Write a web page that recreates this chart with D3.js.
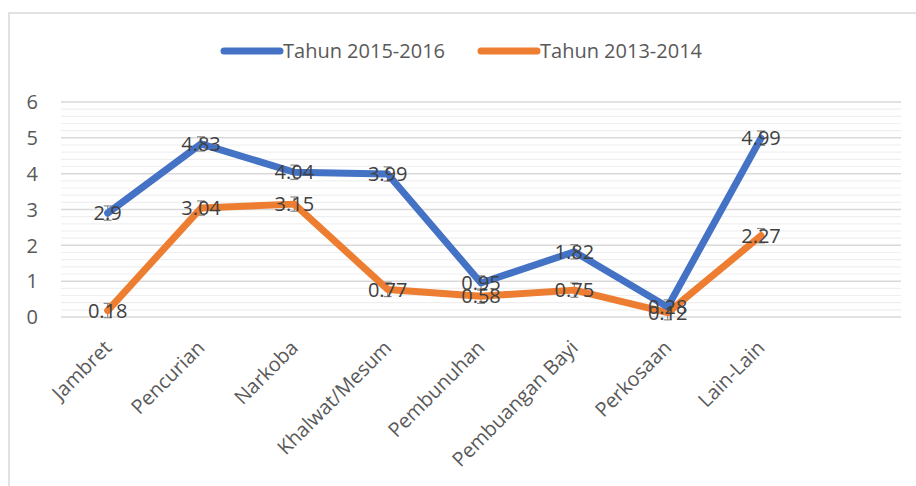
<!DOCTYPE html>
<html>
<head>
<meta charset="utf-8">
<script src="https://cdn.jsdelivr.net/npm/d3@7"></script>
<style>
  body { margin: 0; background: #fff; }
  text { font-family: "Open Sans", sans-serif; }
</style>
</head>
<body>
<svg width="916" height="486"></svg>
<script>
// categories along the x axis (Excel leaves one empty slot on the right)
var categories = ['Jambret', 'Pencurian', 'Narkoba', 'Khalwat/Mesum', 'Pembunuhan', 'Pembuangan Bayi', 'Perkosaan', 'Lain-Lain'];
var slotCount = 9;

var tahun2015 = [2.9, 4.83, 4.04, 3.99, 0.95, 1.82, 0.28, 4.99];
var tahun2013 = [0.18, 3.04, 3.15, 0.77, 0.58, 0.75, 0.12, 2.27];

var seriesNames = ['Tahun 2015-2016', 'Tahun 2013-2014'];
var seriesColors = ['#4472C4', '#ED7D31'];

var yTicks = [0, 1, 2, 3, 4, 5, 6];
var errorBar = 0.2;

var svg = d3.select("svg");

// outer frame (only top and left are visible in the picture)
svg.append("path")
    .attr("d", "M9,486 V13 H916")
    .attr("fill", "none")
    .attr("stroke", "#d9d9d9")
    .attr("stroke-width", 1.5);

var x = d3.scaleBand()
    .domain(d3.range(slotCount))
    .range([61, 901]);

var y = d3.scaleLinear()
    .domain([0, 6])
    .range([317, 102]);

// minor gridlines every 0.2
svg.append("g")
    .selectAll("line")
    .data(d3.range(0, 6.001, 0.2).filter(function (d) {
        return Math.abs(d - Math.round(d)) > 0.01;
    }))
    .enter()
    .append("line")
    .attr("x1", 61).attr("x2", 901)
    .attr("y1", function (d) { return y(d); })
    .attr("y2", function (d) { return y(d); })
    .attr("stroke", "#efefef")
    .attr("stroke-width", 1.2);

// major gridlines
svg.append("g")
    .selectAll("line")
    .data(yTicks)
    .enter()
    .append("line")
    .attr("x1", 61).attr("x2", 901)
    .attr("y1", function (d) { return y(d); })
    .attr("y2", function (d) { return y(d); })
    .attr("stroke", "#d9d9d9")
    .attr("stroke-width", 1.5);

// y axis labels
svg.append("g")
    .selectAll("text")
    .data(yTicks)
    .enter()
    .append("text")
    .attr("x", 38)
    .attr("y", function (d) { return y(d); })
    .attr("dy", "0.36em")
    .attr("text-anchor", "end")
    .attr("font-size", 20)
    .attr("fill", "#595959")
    .text(function (d) { return d; });

// x axis labels, rotated
function cx(i) { return x(i) + x.bandwidth() / 2; }

svg.append("g")
    .selectAll("text")
    .data(categories)
    .enter()
    .append("text")
    .attr("transform", function (d, i) {
        return "translate(" + (cx(i) - 5) + ",339) rotate(-45)";
    })
    .attr("dy", "0.71em")
    .attr("text-anchor", "end")
    .attr("font-size", 20)
    .attr("fill", "#595959")
    .text(function (d) { return d; });

var series = [tahun2015, tahun2013];

var line = d3.line()
    .x(function (d, i) { return cx(i); })
    .y(function (d) { return y(d); });

// small error bars sit under the lines
series.forEach(function (vals) {
    var g = svg.append("g").attr("stroke", "#8c8c8c").attr("stroke-width", 1.2);
    vals.forEach(function (v, i) {
        var px = cx(i);
        g.append("line").attr("x1", px).attr("x2", px)
            .attr("y1", y(v + errorBar)).attr("y2", y(v - errorBar));
        g.append("line").attr("x1", px - 4).attr("x2", px + 4)
            .attr("y1", y(v + errorBar)).attr("y2", y(v + errorBar));
        g.append("line").attr("x1", px - 4).attr("x2", px + 4)
            .attr("y1", y(v - errorBar)).attr("y2", y(v - errorBar));
    });
});

// draw orange first so blue is on top
[1, 0].forEach(function (s) {
    svg.append("path")
        .datum(series[s])
        .attr("d", line)
        .attr("fill", "none")
        .attr("stroke", seriesColors[s])
        .attr("stroke-width", 7)
        .attr("stroke-linejoin", "round")
        .attr("stroke-linecap", "round");
});

// data labels centred on the points
series.forEach(function (vals) {
    svg.append("g")
        .selectAll("text")
        .data(vals)
        .enter()
        .append("text")
        .attr("x", function (d, i) { return cx(i); })
        .attr("y", function (d) { return y(d); })
        .attr("dy", "0.36em")
        .attr("text-anchor", "middle")
        .attr("font-size", 20)
        .attr("fill", "#404040")
        .text(function (d) { return d; });
});

// legend
var legendX = [224, 481];
seriesNames.forEach(function (name, i) {
    svg.append("line")
        .attr("x1", legendX[i]).attr("x2", legendX[i] + 56)
        .attr("y1", 51).attr("y2", 51)
        .attr("stroke", seriesColors[i])
        .attr("stroke-width", 7)
        .attr("stroke-linecap", "round");
    svg.append("text")
        .attr("x", legendX[i] + 59)
        .attr("y", 51)
        .attr("dy", "0.36em")
        .attr("font-size", 20)
        .attr("fill", "#595959")
        .text(name);
});
</script>
</body>
</html>
